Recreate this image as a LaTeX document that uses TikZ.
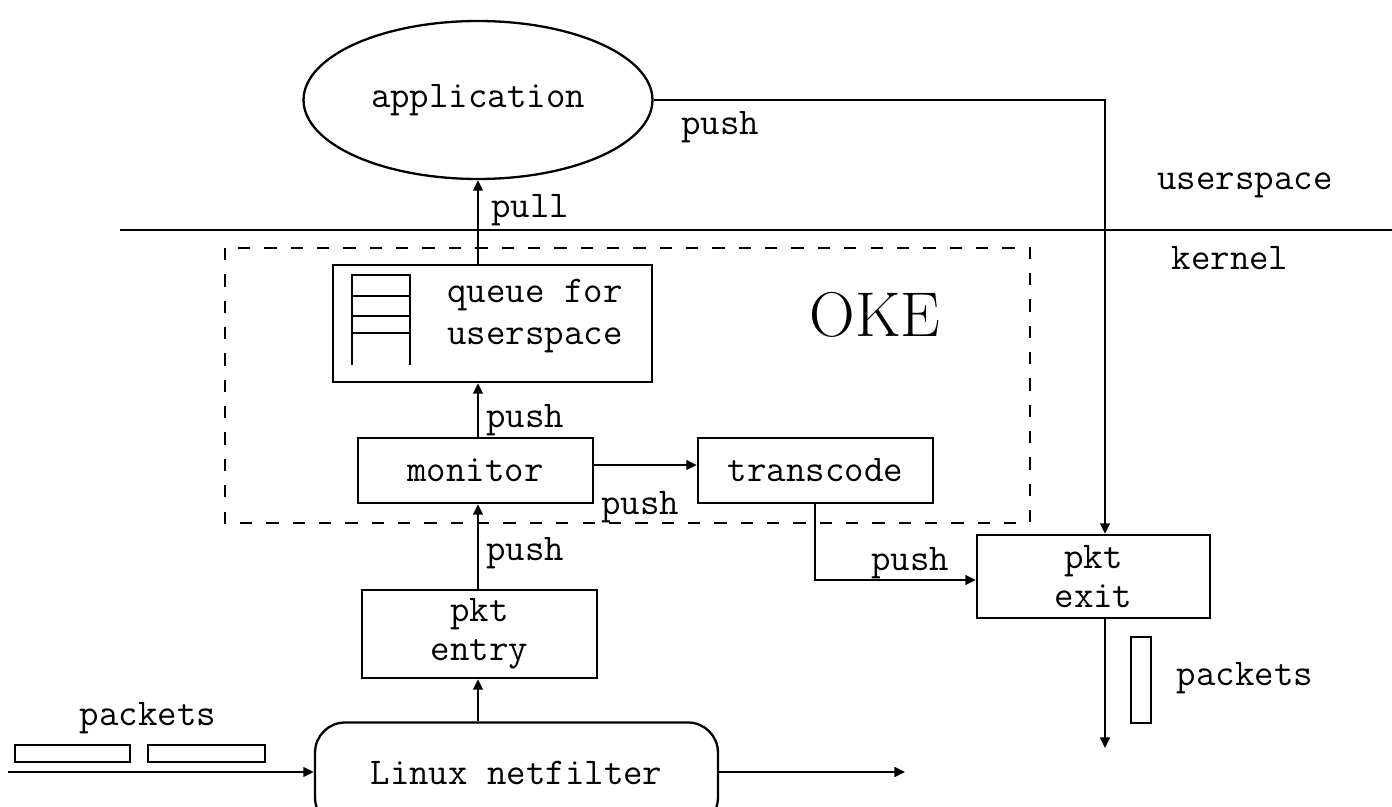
\documentclass[tikz,border=0pt]{standalone}
\usepackage{fontspec}
\usetikzlibrary{arrows.meta,shapes.geometric}
\begin{document}
\begin{tikzpicture}[x=0.02cm,y=-0.02cm,
  line width=1.3pt,
  txt/.style={font=\ttfamily\fontsize{21.5}{20}\selectfont, inner sep=0pt, align=center},
  box/.style={draw, rectangle, inner sep=0pt, txt},
  arr/.style={-{Triangle[length=6pt,width=5.5pt]}},
  lbl/.style={txt}
]
\clip (0,0) rectangle (1392,807);
\fill[white] (0,0) rectangle (1392,807);

% application
\node[draw, ellipse, minimum width=6.98cm, minimum height=3.16cm, txt] (app) at (478,100) {application};

% separator line
\coordinate (sepL) at (120,230);
\coordinate (sepR) at (1392,230);
\draw (sepL) -- (sepR);
\node[lbl] (us) at (1245,185) {userspace};
\node[lbl] (kern) at (1230,258) {kernel};

% OKE dashed region
\draw[dash pattern=on 7pt off 8pt] (225,248) rectangle (1030,523);
\node[font=\rmfamily\fontsize{36}{40}\selectfont, inner sep=0pt] (oke) at (875,315) {OKE};

% queue
\node[draw, rectangle, inner sep=0pt, minimum width=6.38cm, minimum height=2.34cm] (queue) at (492.5,323.5) {};
\node[lbl] (qtext) at (535,316) {queue for\\[4pt]userspace};
\draw (352,365) -- (352,275) -- (410,275) -- (410,365);
\draw (352,296) -- (410,296);
\draw (352,316) -- (410,316);
\draw (352,333) -- (410,333);

% monitor / transcode
\node[box, minimum width=4.7cm, minimum height=1.3cm] (mon) at (475.5,470.5) {monitor};
\node[box, minimum width=4.7cm, minimum height=1.3cm] (trans) at (815.5,470.5) {transcode};

% pkt entry / exit
\node[box, minimum width=4.7cm, minimum height=1.76cm] (entry) at (479.5,634) {pkt\\[2pt]entry};
\node[box, minimum width=4.66cm, minimum height=1.66cm] (exit) at (1093.5,576.5) {pkt\\[2pt]exit};

% netfilter
\node[draw, rectangle, rounded corners=0.6cm, minimum width=8.06cm, minimum height=2.1cm, txt] (nf) at (516.5,775) {};
\node[lbl] (nftext) at (516.5,773) {Linux netfilter};

% coordinates
\coordinate (cx) at (478,0);
\coordinate (ex) at (1105,0);
\coordinate (tx) at (815,0);
\coordinate (inL) at (8,772);
\coordinate (outR) at (905,772);
\coordinate (exitEnd) at (1105,748);
\coordinate (transCorner) at (815,580);

% connectors
\draw[arr] (queue.north -| cx) -- (app.south -| cx);
\node[lbl] (pull) at (530,210) {pull};
\draw[arr] (mon.north -| cx) -- (queue.south -| cx);
\node[lbl] (push1) at (525,420) {push};
\draw[arr] (entry.north -| cx) -- (mon.south -| cx);
\node[lbl] (push2) at (525,553) {push};
\draw[arr] (nf.north -| cx) -- (entry.south -| cx);
\draw[arr] (mon.east |- 0,465) -- (trans.west |- 0,465);
\node[lbl] (push3) at (640,507) {push};
\draw[arr] (trans.south -| tx) -- (transCorner) -- (exit.west |- transCorner);
\node[lbl] (push4) at (910,563) {push};
\draw[arr] (app.east) -- (app.east -| ex) -- (exit.north -| ex);
\node[lbl] (push5) at (720,127) {push};
\draw[arr] (exit.south -| ex) -- (exitEnd);
\draw[arr] (inL) -- (nf.west |- inL);
\draw[arr] (nf.east |- outR) -- (outR);

% packets
\node[lbl] (pk1) at (148,718) {packets};
\draw (15,745) rectangle (130,762);
\draw (148,745) rectangle (265,762);
\node[lbl] (pk2) at (1245,678) {packets};
\draw (1131,637) rectangle (1151,723);
\end{tikzpicture}
\end{document}
